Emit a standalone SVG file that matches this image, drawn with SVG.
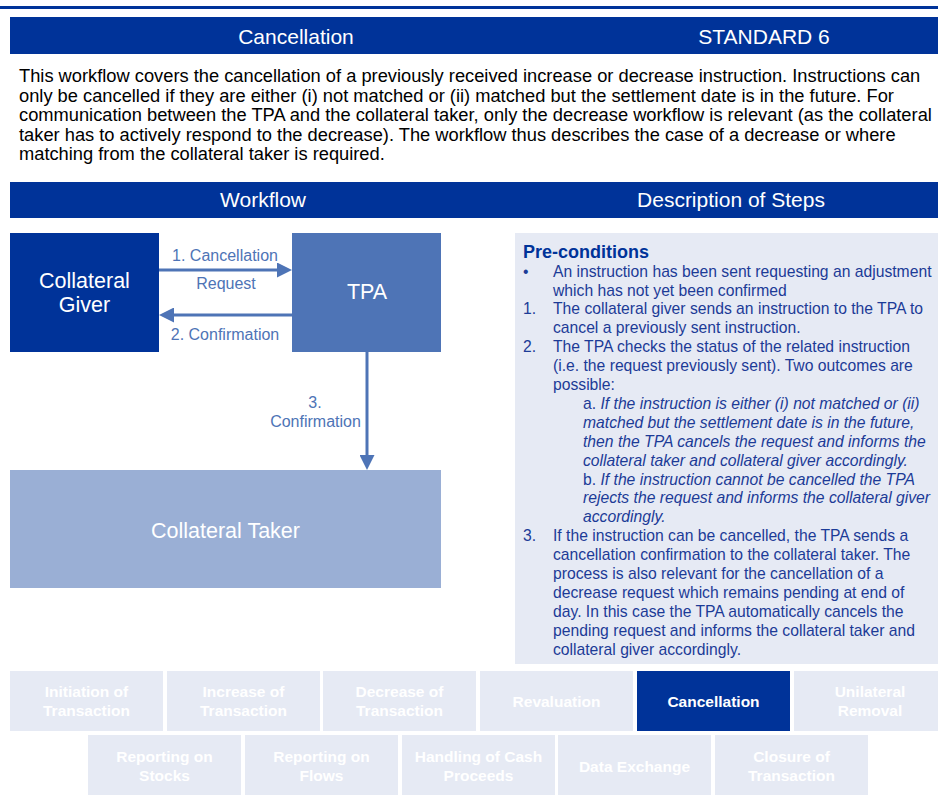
<svg xmlns="http://www.w3.org/2000/svg" width="938" height="803" viewBox="0 0 938 803">
<style>
text{font-family:"Liberation Sans",Arial,sans-serif}
.hd{fill:#fff;font-size:21px;text-anchor:middle}
.intro{fill:#000;font-size:18.3px}
.node{fill:#fff;font-size:21.5px;text-anchor:middle}
.lbl{fill:#4E74B6;font-size:16px;text-anchor:middle}
.ds{fill:#1C3B97;font-size:15.7px}
.it{font-style:italic}
.nav{fill:#E6EAF4}
.navt{fill:#fff;font-size:15.5px;font-weight:bold;text-anchor:middle}
.conn{stroke:#4E74B6;stroke-width:3;fill:none}
</style>
<defs>
<marker id="ah" markerUnits="userSpaceOnUse" markerWidth="15" markerHeight="15" refX="3" refY="7.5" orient="auto" viewBox="0 0 15 15">
<path d="M0,0 L15,7.5 L0,15 z" fill="#4E74B6"/>
</marker>
</defs>
<rect width="938" height="803" fill="#fff"/>
<line x1="0" y1="7.5" x2="938" y2="7.5" stroke="#003399" stroke-width="3"/>
<g id="header">
<rect x="10" y="17" width="928" height="37" fill="#003399"/>
<text class="hd" x="296" y="44">Cancellation</text>
<text class="hd" x="764" y="44">STANDARD 6</text>
</g>
<g id="intro">
<text class="intro" x="19" y="82">This workflow covers the cancellation of a previously received increase or decrease instruction. Instructions can</text>
<text class="intro" x="19" y="101.5">only be cancelled if they are either (i) not matched or (ii) matched but the settlement date is in the future. For</text>
<text class="intro" x="19" y="121">communication between the TPA and the collateral taker, only the decrease workflow is relevant (as the collateral</text>
<text class="intro" x="19" y="140.5">taker has to actively respond to the decrease). The workflow thus describes the case of a decrease or where</text>
<text class="intro" x="19" y="160">matching from the collateral taker is required.</text>
</g>
<g id="section-bar">
<rect x="10" y="182" width="928" height="36" fill="#003399"/>
<text class="hd" x="263" y="207">Workflow</text>
<text class="hd" x="731" y="207">Description of Steps</text>
</g>
<g id="collateral-giver">
<rect x="10" y="233" width="149" height="119" fill="#003399"/>
<text class="node" x="84.5" y="287.5">Collateral</text>
<text class="node" x="84.5" y="312">Giver</text>
</g>
<g id="tpa">
<rect x="292" y="233" width="149" height="119" fill="#4E74B6"/>
<text class="node" x="367" y="299">TPA</text>
</g>
<g id="collateral-taker">
<rect x="10" y="470" width="431" height="118" fill="#9AAFD5"/>
<text class="node" x="225.5" y="538">Collateral Taker</text>
</g>
<g id="connectors">
<line class="conn" x1="159" y1="270" x2="280" y2="270" marker-end="url(#ah)"/>
<text class="lbl" x="225" y="261">1. Cancellation</text>
<text class="lbl" x="226" y="289">Request</text>
<line class="conn" x1="292" y1="315" x2="171" y2="315" marker-end="url(#ah)"/>
<text class="lbl" x="225" y="340">2. Confirmation</text>
<line class="conn" x1="367" y1="352" x2="367" y2="458" marker-end="url(#ah)"/>
<text class="lbl" x="315" y="408">3.</text>
<text class="lbl" x="315.5" y="427">Confirmation</text>
</g>
<g id="description">
<rect x="515" y="233" width="423" height="431" fill="#E6EAF4"/>
<text x="523" y="258" fill="#003399" font-size="18px" font-weight="bold">Pre-conditions</text>
<text class="ds" x="523" y="276.7">•</text>
<text class="ds" x="553" y="276.7">An instruction has been sent requesting an adjustment</text>
<text class="ds" x="553" y="295.5">which has not yet been confirmed</text>
<text class="ds" x="523" y="314.4">1.</text>
<text class="ds" x="553" y="314.4">The collateral giver sends an instruction to the TPA to</text>
<text class="ds" x="553" y="333.3">cancel a previously sent instruction.</text>
<text class="ds" x="523" y="352.2">2.</text>
<text class="ds" x="553" y="352.2">The TPA checks the status of the related instruction</text>
<text class="ds" x="553" y="371.1">(i.e. the request previously sent). Two outcomes are</text>
<text class="ds" x="553" y="390">possible:</text>
<text class="ds" x="583" y="408.9">a. <tspan class="it">If the instruction is either (i) not matched or (ii)</tspan></text>
<text class="ds it" x="583" y="427.8">matched but the settlement date is in the future,</text>
<text class="ds it" x="583" y="446.7">then the TPA cancels the request and informs the</text>
<text class="ds it" x="583" y="465.6">collateral taker and collateral giver accordingly.</text>
<text class="ds" x="583" y="484.5">b. <tspan class="it">If the instruction cannot be cancelled the TPA</tspan></text>
<text class="ds it" x="583" y="503.4">rejects the request and informs the collateral giver</text>
<text class="ds it" x="583" y="522.3">accordingly.</text>
<text class="ds" x="523" y="541.2">3.</text>
<text class="ds" x="553" y="541.2">If the instruction can be cancelled, the TPA sends a</text>
<text class="ds" x="553" y="560.1">cancellation confirmation to the collateral taker. The</text>
<text class="ds" x="553" y="579">process is also relevant for the cancellation of a</text>
<text class="ds" x="553" y="597.9">decrease request which remains pending at end of</text>
<text class="ds" x="553" y="616.8">day. In this case the TPA automatically cancels the</text>
<text class="ds" x="553" y="635.7">pending request and informs the collateral taker and</text>
<text class="ds" x="553" y="654.6">collateral giver accordingly.</text>
</g>
<g id="nav-initiation"><rect class="nav" x="10" y="671" width="153" height="60"/><text class="navt" x="86.5" y="697.3">Initiation of</text><text class="navt" x="86.5" y="715.5">Transaction</text></g>
<g id="nav-increase"><rect class="nav" x="167" y="671" width="153" height="60"/><text class="navt" x="243.5" y="697.3">Increase of</text><text class="navt" x="243.5" y="715.5">Transaction</text></g>
<g id="nav-decrease"><rect class="nav" x="323" y="671" width="153" height="60"/><text class="navt" x="399.5" y="697.3">Decrease of</text><text class="navt" x="399.5" y="715.5">Transaction</text></g>
<g id="nav-revaluation"><rect class="nav" x="480" y="671" width="153" height="60"/><text class="navt" x="556.5" y="706.7">Revaluation</text></g>
<g id="nav-cancellation"><rect x="637" y="671" width="153" height="60" fill="#003399"/><text class="navt" x="713.5" y="706.7">Cancellation</text></g>
<g id="nav-unilateral"><rect class="nav" x="794" y="671" width="144" height="60"/><text class="navt" x="870" y="697.3">Unilateral</text><text class="navt" x="870" y="715.5">Removal</text></g>
<g id="nav-stocks"><rect class="nav" x="88" y="735" width="153" height="60"/><text class="navt" x="164.5" y="761.7">Reporting on</text><text class="navt" x="164.5" y="780.5">Stocks</text></g>
<g id="nav-flows"><rect class="nav" x="245" y="735" width="153" height="60"/><text class="navt" x="321.5" y="761.7">Reporting on</text><text class="navt" x="321.5" y="780.5">Flows</text></g>
<g id="nav-cash"><rect class="nav" x="402" y="735" width="153" height="60"/><text class="navt" x="478.5" y="761.7">Handling of Cash</text><text class="navt" x="478.5" y="780.5">Proceeds</text></g>
<g id="nav-data"><rect class="nav" x="558" y="735" width="153" height="60"/><text class="navt" x="634.5" y="771.7">Data Exchange</text></g>
<g id="nav-closure"><rect class="nav" x="715" y="735" width="153" height="60"/><text class="navt" x="791.5" y="761.7">Closure of</text><text class="navt" x="791.5" y="780.5">Transaction</text></g>
</svg>
